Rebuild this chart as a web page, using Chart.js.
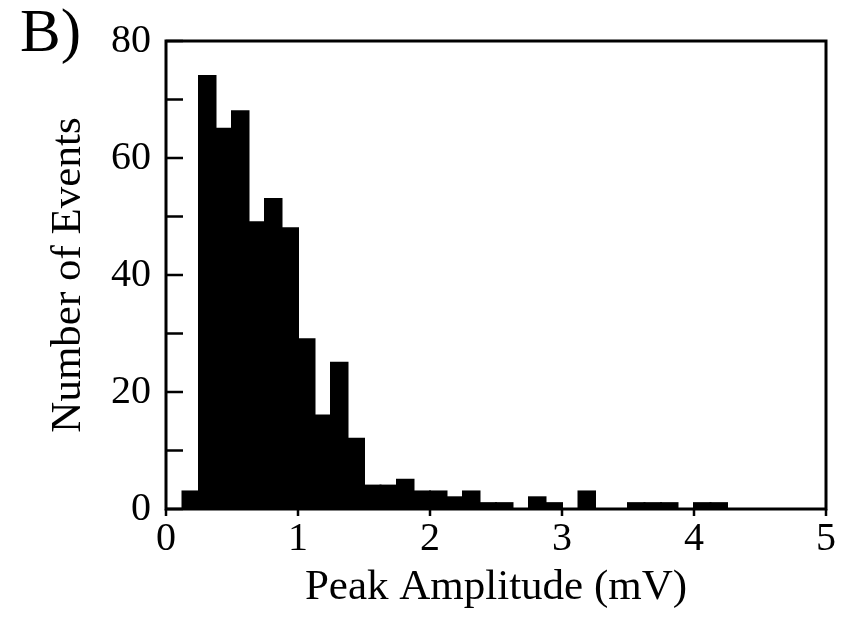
<!DOCTYPE html>
<html>
<head>
<meta charset="utf-8">
<script src="https://cdn.jsdelivr.net/npm/chart.js@4.4.0/dist/chart.umd.min.js"></script>
<style>
  html, body { margin: 0; padding: 0; background: #fff; }
  #wrap { position: relative; width: 852px; height: 619px; }
  #panel { position: absolute; left: 20px; top: 0px; font: 61px 'Liberation Serif', 'Times New Roman', serif; color: #000; line-height: 1; }
</style>
</head>
<body>
<div id="wrap">
  <canvas id="histChart" width="852" height="619"></canvas>
  <div id="panel">B)</div>
</div>
<script>
// histogram of peak amplitudes, bins of 0.125 mV starting at 0
const binWidth = 0.125;
const counts = [
  0, 3, 74, 65, 68, 49, 53, 48,
  29, 16, 25, 12, 4, 4, 5, 3,
  3, 2, 3, 1, 1, 0, 2, 1,
  0, 3, 0, 0, 1, 1, 1, 0,
  1, 1, 0, 0, 0, 0, 0, 0
];
const xTickValues = [0, 1, 2, 3, 4, 5];
const yLabelled = [0, 20, 40, 60, 80];

const serif = "'Liberation Serif', 'Times New Roman', serif";

// bar centres from the bin index
const points = counts.map((c, i) => ({ x: (i + 0.5) * binWidth, y: c }));

// box round the plot, ticks on the inside of the y axis, short ticks under x
const framePlugin = {
  id: 'frame',
  afterDatasetsDraw(chart) {
    const { ctx, chartArea: a, scales: { x, y } } = chart;
    ctx.save();
    ctx.strokeStyle = '#000';
    ctx.lineWidth = 3;
    ctx.strokeRect(a.left, a.top, a.right - a.left, a.bottom - a.top);
    ctx.lineWidth = 2.5;
    ctx.beginPath();
    y.ticks.forEach(t => {
      const py = y.getPixelForValue(t.value);
      ctx.moveTo(a.left, py);
      ctx.lineTo(a.left + 17, py);
    });
    x.ticks.forEach(t => {
      const px = x.getPixelForValue(t.value);
      ctx.moveTo(px, a.bottom);
      ctx.lineTo(px, a.bottom + 7);
    });
    ctx.stroke();
    ctx.restore();
  }
};

const ctx = document.getElementById('histChart').getContext('2d');
new Chart(ctx, {
  type: 'bar',
  data: {
    datasets: [{
      data: points,
      backgroundColor: '#000',
      borderWidth: 0,
      inflateAmount: 1,
      barPercentage: 1,
      categoryPercentage: 1
    }]
  },
  options: {
    responsive: false,
    devicePixelRatio: 1,
    animation: false,
    layout: { padding: { top: 41, right: 26, bottom: 0, left: 0 } },
    plugins: { legend: { display: false }, tooltip: { enabled: false } },
    scales: {
      x: {
        type: 'linear',
        min: 0,
        max: 5,
        offset: false,
        grid: { display: false, drawTicks: false, offset: false },
        border: { display: false },
        ticks: {
          stepSize: 1,
          maxRotation: 0,
          padding: 6,
          color: '#000',
          font: { family: serif, size: 40 },
          callback: v => xTickValues.includes(v) ? String(v) : ''
        },
        title: {
          display: true,
          text: 'Peak Amplitude (mV)',
          color: '#000',
          font: { family: serif, size: 43, lineHeight: 1 },
          padding: { top: 0, bottom: 10 }
        },
        afterFit(scale) { scale.height = 110; }
      },
      y: {
        min: 0,
        max: 80,
        grid: { display: false, drawTicks: false },
        border: { display: false },
        ticks: {
          stepSize: 10,
          padding: 15,
          color: '#000',
          font: { family: serif, size: 40 },
          callback: v => yLabelled.includes(v) ? String(v) : ''
        },
        title: {
          display: true,
          text: 'Number of Events',
          color: '#000',
          font: { family: serif, size: 43, lineHeight: 1 },
          padding: { top: 47, bottom: 0 }
        },
        afterFit(scale) { scale.width = 166; }
      }
    }
  },
  plugins: [framePlugin]
});
</script>
</body>
</html>
